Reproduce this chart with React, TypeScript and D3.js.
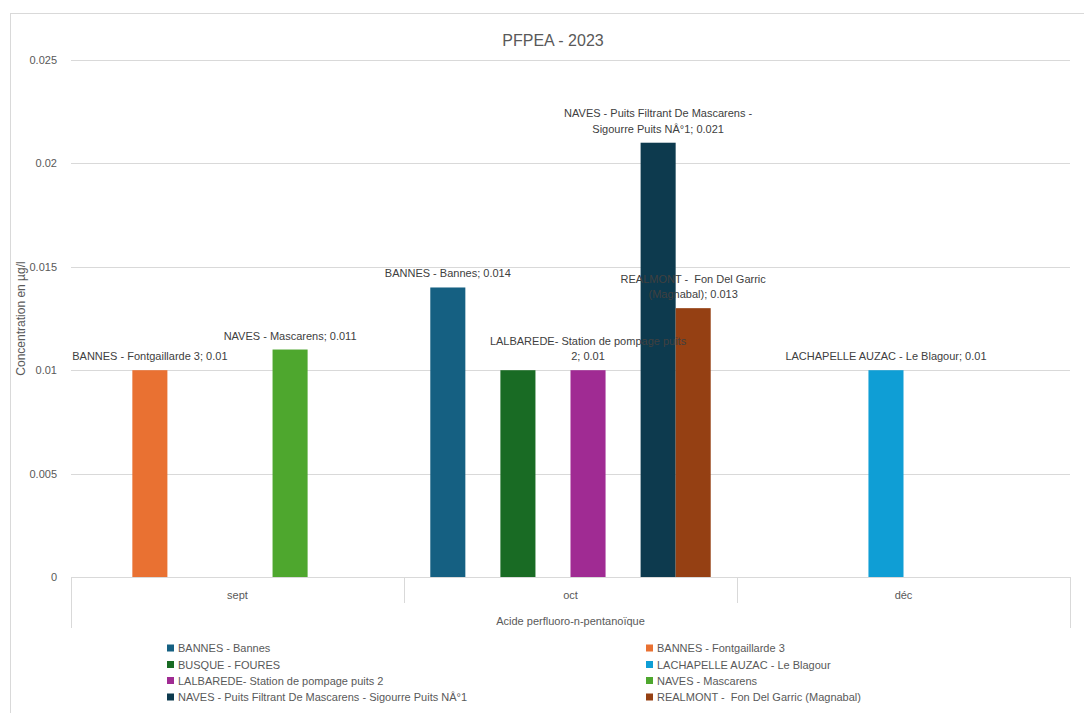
import React from "react";
import * as d3 from "d3";

const title = "PFPEA - 2023";
const months = ["sept", "oct", "déc"];
const groupLabel = "Acide perfluoro-n-pentanoïque";
const yTitle = "Concentration en µg/l";
const yTicks = [0, 0.005, 0.01, 0.015, 0.02, 0.025];

const seriesNames = [
  "BANNES - Bannes",
  "BANNES - Fontgaillarde 3",
  "BUSQUE - FOURES",
  "LACHAPELLE AUZAC - Le Blagour",
  "LALBAREDE- Station de pompage puits 2",
  "NAVES - Mascarens",
  "NAVES - Puits Filtrant De Mascarens - Sigourre Puits NÂ°1",
  "REALMONT -  Fon Del Garric (Magnabal)",
];
const seriesColors = [
  "#156082",
  "#E97132",
  "#196B24",
  "#0F9ED5",
  "#A02B93",
  "#4EA72E",
  "#0D3A4E",
  "#954013",
];
// values per series for [sept, oct, déc]
const seriesValues: (number | null)[][] = [
  [null, 0.014, null],
  [0.01, null, null],
  [null, 0.01, null],
  [null, null, 0.01],
  [null, 0.01, null],
  [0.011, null, null],
  [null, 0.021, null],
  [null, 0.013, null],
];
// whether a data label is shown, and where it wraps
const showLabel = [true, true, false, true, true, true, true, true];
const labelBreakAfter = ["", "", "", "", "puits", "", "Mascarens -", "Garric"];

export default function App() {
  const W = 1084;
  const H = 713;
  const left = 71;
  const right = 1070;
  const top = 60;
  const bottom = 577;

  const x0 = d3.scaleBand<string>().domain(months).range([left, right]).paddingInner(0).paddingOuter(0);
  const x1 = d3
    .scaleBand<string>()
    .domain(seriesNames)
    .range([0, x0.bandwidth()])
    .paddingInner(0)
    .paddingOuter(0.75);
  const y = d3.scaleLinear().domain([0, 0.025]).range([bottom, top]);

  const fmt = (v: number) => String(+v.toFixed(3));
  const font = "'Liberation Sans', Arial, sans-serif";

  const bars: any[] = [];
  const labels: any[] = [];
  seriesNames.forEach((name, si) => {
    seriesValues[si].forEach((v, mi) => {
      if (v == null) return;
      const bx = (x0(months[mi]) as number) + (x1(name) as number);
      const bw = x1.bandwidth();
      bars.push(
        <rect key={`b${si}-${mi}`} x={bx} y={y(v)} width={bw} height={y(0) - y(v)} fill={seriesColors[si]} />
      );
      if (showLabel[si]) {
        const text = `${name}; ${fmt(v)}`;
        let lines = [text];
        const br = labelBreakAfter[si];
        if (br) {
          const idx = text.indexOf(br) + br.length;
          lines = [text.slice(0, idx).trim(), text.slice(idx).trim()];
        }
        const cx = bx + bw / 2;
        const lastY = y(v) - 14;
        lines.forEach((ln, li) => {
          const cy = lastY - (lines.length - 1 - li) * 15.5;
          labels.push(
            <text
              key={`l${si}-${mi}-${li}`}
              x={cx}
              y={cy + 4}
              textAnchor="middle"
              fontSize={11}
              fill="#404040"
              style={{ whiteSpace: "pre" }}
            >
              {ln}
            </text>
          );
        });
      }
    });
  });

  const legendRows = [648, 664.5, 680.5, 697];
  const legendCols = [167, 646];

  return (
    <svg
      width={W}
      height={H}
      style={{ position: "absolute", left: 0, top: 0, background: "#fff" }}
      fontFamily={font}
    >
      <rect x={10.5} y={13.5} width={W + 20} height={H + 20} fill="#fff" stroke="#d9d9d9" strokeWidth={1} />
      <text x={553} y={46} textAnchor="middle" fontSize={16} fill="#595959">
        {title}
      </text>
      {/* grid */}
      {yTicks.map((t) => (
        <g key={`g${t}`}>
          {t > 0 && (
            <line x1={left} x2={right} y1={Math.round(y(t)) + 0.5} y2={Math.round(y(t)) + 0.5} stroke="#d9d9d9" strokeWidth={1} />
          )}
          <text x={57} y={y(t) + 4} textAnchor="end" fontSize={11} fill="#595959">
            {fmt(t)}
          </text>
        </g>
      ))}
      <text
        transform={`translate(25,${(top + bottom) / 2}) rotate(-90)`}
        textAnchor="middle"
        fontSize={12}
        fill="#595959"
      >
        {yTitle}
      </text>
      {bars}
      {/* category axis */}
      <line x1={left} x2={right} y1={bottom + 0.5} y2={bottom + 0.5} stroke="#d9d9d9" />
      <line x1={left + 0.5} x2={left + 0.5} y1={bottom} y2={628} stroke="#d9d9d9" />
      <line x1={right + 0.5} x2={right + 0.5} y1={bottom} y2={628} stroke="#d9d9d9" />
      {months.slice(1).map((m) => (
        <line
          key={`t${m}`}
          x1={Math.round(x0(m) as number) + 0.5}
          x2={Math.round(x0(m) as number) + 0.5}
          y1={bottom}
          y2={603}
          stroke="#d9d9d9"
        />
      ))}
      {months.map((m) => (
        <text key={`m${m}`} x={(x0(m) as number) + x0.bandwidth() / 2} y={599} textAnchor="middle" fontSize={11} fill="#595959">
          {m}
        </text>
      ))}
      <text x={(left + right) / 2} y={625} textAnchor="middle" fontSize={11} fill="#595959">
        {groupLabel}
      </text>
      {labels}
      {/* legend */}
      {seriesNames.map((name, i) => {
        const col = i % 2;
        const row = Math.floor(i / 2);
        const lx = legendCols[col];
        const ly = legendRows[row];
        return (
          <g key={`lg${i}`}>
            <rect x={lx} y={ly - 3.5} width={7} height={7} fill={seriesColors[i]} />
            <text x={lx + 11} y={ly + 4} fontSize={11} fill="#595959" style={{ whiteSpace: "pre" }}>
              {name}
            </text>
          </g>
        );
      })}
    </svg>
  );
}
